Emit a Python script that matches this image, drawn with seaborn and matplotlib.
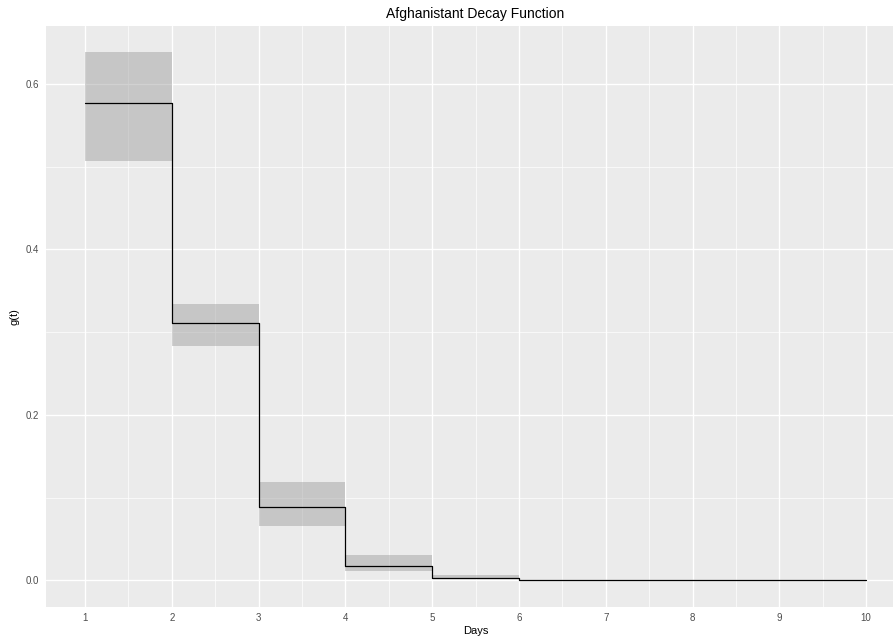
import matplotlib
matplotlib.use("Agg")
import matplotlib.pyplot as plt
import seaborn as sns
import pandas as pd
from matplotlib.ticker import MultipleLocator

days = [1, 2, 3, 4, 5, 6, 7, 8, 9, 10]
g = [0.577, 0.311, 0.089, 0.0177, 0.003, 0.0004, 0.0, 0.0, 0.0, 0.0]
lower = [0.507, 0.283, 0.066, 0.011, 0.0018, 0.0001, 0.0, 0.0, 0.0, 0.0]
upper = [0.638, 0.334, 0.119, 0.030, 0.0064, 0.0008, 0.0, 0.0, 0.0, 0.0]
x_ticks = [1, 2, 3, 4, 5, 6, 7, 8, 9, 10]
y_ticks = [0.0, 0.2, 0.4, 0.6]
title = "Afghanistant Decay Function"

df = pd.DataFrame({"Days": days, "g": g, "lower": lower, "upper": upper})

sns.set_theme(style="darkgrid")
plt.rcParams['font.family'] = ['Liberation Sans', 'DejaVu Sans']

fig = plt.figure(figsize=(8.93, 6.39), dpi=100)
ax = fig.add_axes([46/893, 1 - 606.7/639, (893 - 46)/893, (606.7 - 26)/639])
ax.set_facecolor("#EBEBEB")

# ribbon (step-wise)
ax.fill_between(df["Days"], df["lower"], df["upper"], step="post",
                color="#999999", alpha=0.45, linewidth=0, zorder=2)
# step line
sns.lineplot(data=df, x="Days", y="g", ax=ax, color="black", linewidth=0.9,
             drawstyle="steps-post", zorder=3)

span_x = 9
ax.set_xlim(1 - 0.05*span_x, 10 + 0.031*span_x + 0.03)
ymin, ymax = 0.0, max(upper)
ax.set_ylim(ymin - 0.05*(ymax - ymin), ymax + 0.05*(ymax - ymin))

ax.set_xticks(x_ticks)
ax.set_xticklabels([str(v) for v in x_ticks])
ax.set_yticks(y_ticks)
ax.set_yticklabels([f"{v:.1f}" for v in y_ticks])
ax.xaxis.set_minor_locator(MultipleLocator(0.5))
ax.yaxis.set_minor_locator(MultipleLocator(0.1))

ax.grid(which="major", color="white", linewidth=1.0)
ax.grid(which="minor", color="white", linewidth=0.5)
ax.set_axisbelow(True)
for s in ax.spines.values():
    s.set_visible(False)

ax.tick_params(axis="both", which="major", length=2.7, width=0.8, color="#333333",
               labelsize=7.0, labelcolor="#4D4D4D", pad=2)
ax.tick_params(axis="both", which="minor", length=0)

center = (475.5 - 46) / (893 - 46)
ax.set_xlabel("Days", fontsize=8.0, color="black", labelpad=2)
ax.xaxis.set_label_coords(center, -0.033)
ax.set_ylabel("g(t)", fontsize=8.0, color="black", labelpad=5)
ax.text(center, 1.0 + 5/580, title, transform=ax.transAxes, ha="center",
        va="bottom", fontsize=10.0, color="black")

fig.savefig("out.png", dpi=100)
